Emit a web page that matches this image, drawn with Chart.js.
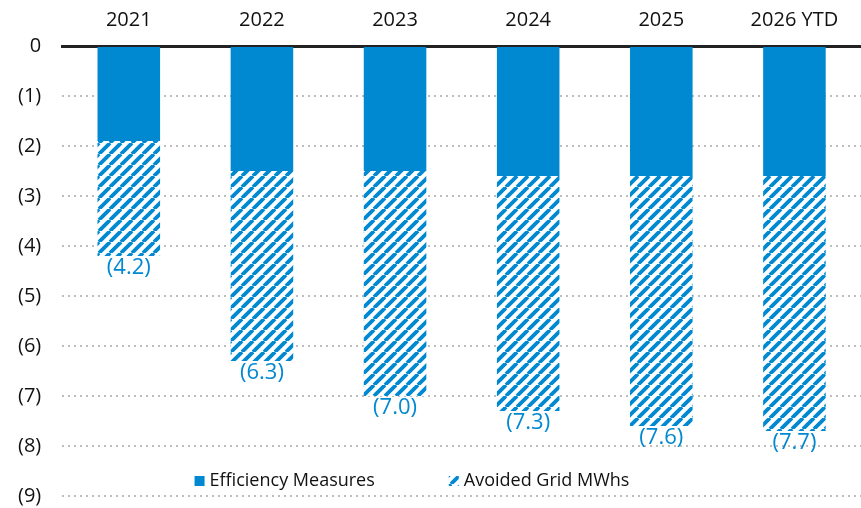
<!DOCTYPE html>
<html>
<head>
<meta charset="utf-8">
<script src="https://cdn.jsdelivr.net/npm/chart.js@4"></script>
<style>
  html, body { margin: 0; padding: 0; background: #fff; }
</style>
</head>
<body>
<canvas id="myChart" width="861" height="508"></canvas>
<script>
// datos (valores en negativo = ahorro)
const years = ['2021', '2022', '2023', '2024', '2025', '2026 YTD']
const efficiency = [1.9, 2.5, 2.5, 2.6, 2.6, 2.6]
const avoidedGrid = [2.3, 3.8, 4.5, 4.7, 5.0, 5.1]
const seriesNames = ['Efficiency Measures', 'Avoided Grid MWhs']

const BLUE = '#0089D0'
const FONT = "'Open Sans', sans-serif"

// patron rayado para la segunda serie
const makeHatch = (color) => {
    const s = 11
    const c = document.createElement('canvas')
    c.width = s
    c.height = s
    const g = c.getContext('2d')
    g.fillStyle = '#fff'
    g.fillRect(0, 0, s, s)
    g.strokeStyle = color
    g.lineWidth = 3.8
    g.beginPath()
    g.moveTo(-s, s); g.lineTo(0, 0)
    g.moveTo(0, s); g.lineTo(s, 0)
    g.moveTo(s, s); g.lineTo(2 * s, 0)
    g.stroke()
    return g.createPattern(c, 'repeat')
}
const hatch = makeHatch(BLUE)

// etiquetas de total debajo de cada barra
const totalLabels = {
    id: 'totalLabels',
    afterDatasetsDraw(chart) {
        const ctx = chart.ctx
        const meta = chart.getDatasetMeta(1)
        ctx.save()
        ctx.font = '22px ' + FONT
        ctx.fillStyle = BLUE
        ctx.textAlign = 'center'
        ctx.textBaseline = 'top'
        meta.data.forEach((bar, i) => {
            const total = efficiency[i] + avoidedGrid[i]
            ctx.fillText('(' + total.toFixed(1) + ')', bar.x, bar.y + 1)
        })
        ctx.restore()
    }
}

// leyenda dentro del area del grafico
const innerLegend = {
    id: 'innerLegend',
    afterDraw(chart) {
        const ctx = chart.ctx
        ctx.save()
        ctx.font = '18px ' + FONT
        ctx.textBaseline = 'middle'
        const box = 10
        const gapText = 5
        const gapItem = 74
        const widths = seriesNames.map(n => box + gapText + ctx.measureText(n).width)
        const total = widths.reduce((a, b) => a + b, 0) + gapItem
        let x = 412 - total / 2
        const y = chart.scales.y.getPixelForValue(-8.7)
        chart.data.datasets.forEach((ds, i) => {
            ctx.fillStyle = ds.backgroundColor
            ctx.fillRect(x, y - box / 2, box, box)
            ctx.fillStyle = '#111'
            ctx.fillText(seriesNames[i], x + box + gapText, y)
            x += widths[i] + gapItem
        })
        ctx.restore()
    }
}

const ctx = document.querySelector('#myChart')
new Chart(ctx, {
    type: 'bar',
    data: {
        labels: years,
        datasets: [
            {
                label: seriesNames[0],
                data: efficiency.map(v => -v),
                backgroundColor: BLUE,
            },
            {
                label: seriesNames[1],
                data: avoidedGrid.map(v => -v),
                backgroundColor: hatch,
            },
        ],
    },
    options: {
        responsive: false,
        animation: false,
        layout: { padding: { left: 18, right: 0, top: -6, bottom: -1 } },
        datasets: {
            bar: { categoryPercentage: 1, barPercentage: 0.47 }
        },
        plugins: {
            legend: { display: false },
            tooltip: { enabled: false },
        },
        scales: {
            x: {
                stacked: true,
                position: 'top',
                grid: { display: false, drawTicks: false },
                border: { display: true, color: '#222', width: 3 },
                ticks: { color: '#111', font: { family: FONT, size: 20 }, padding: 14 },
            },
            y: {
                stacked: true,
                min: -9,
                max: 0,
                grid: { color: '#bdbdbd', lineWidth: 2, drawTicks: true, tickLength: 21, tickColor: 'rgba(0,0,0,0)' },
                border: { display: false, dash: [2, 4] },
                ticks: {
                    stepSize: 1,
                    color: '#111',
                    font: { family: FONT, size: 20 },
                    padding: 0,
                    callback: (v) => v === 0 ? '0' : '(' + Math.abs(v) + ')',
                },
            },
        },
    },
    plugins: [totalLabels, innerLegend],
})
</script>
</body>
</html>
